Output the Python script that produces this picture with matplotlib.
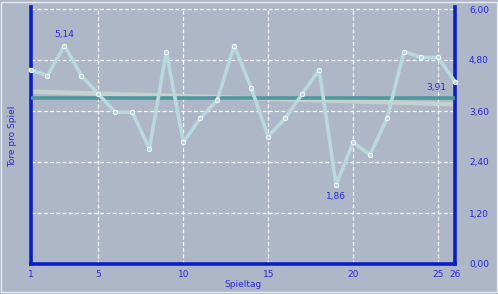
import matplotlib
matplotlib.use("Agg")
import matplotlib.pyplot as plt
import numpy as np
from matplotlib.patches import Rectangle

# Tore pro Spiel je Spieltag
spieltag = list(range(1, 27))
tore_pro_spiel = [4.57, 4.43, 5.14, 4.43, 4.00, 3.57, 3.57, 2.71, 5.00, 2.86,
                  3.43, 3.86, 5.14, 4.14, 3.00, 3.43, 4.00, 4.57, 1.86, 2.86,
                  2.57, 3.43, 5.00, 4.86, 4.86, 4.29]
schnitt = 3.91
x_ticks = [1, 5, 10, 15, 20, 25, 26]
y_ticks = [0.0, 1.2, 2.4, 3.6, 4.8, 6.0]

BG = "#adb7c7"
AXIS = "#0a1ec8"
TEXT = "#2a2ad2"
LINE = "#b9d9df"
AVG = "#4e979c"
TREND = "#c5d1cf"

fig = plt.figure(figsize=(4.98, 2.94), dpi=100, facecolor=BG)
fig.patches.append(Rectangle((0.003, 0.008), 0.994, 0.986, transform=fig.transFigure,
                             fill=False, edgecolor="#e8ecf0", linewidth=1.0))
ax = fig.add_axes([30.5 / 498, 30 / 294, (455 - 30.5) / 498, 255 / 294])
ax.set_facecolor(BG)
ax.set_xlim(1, 26)
ax.set_ylim(0, 6)

# grid
for v in [5, 10, 15, 20, 25]:
    ax.axvline(v, color="white", linestyle=(0, (3, 2)), linewidth=0.9, zorder=1)
for v in y_ticks[1:]:
    ax.axhline(v, color="white", linestyle=(0, (3, 2)), linewidth=0.9, zorder=1, clip_on=False)

# trend line (linear regression) and average
coef = np.polyfit(spieltag, tore_pro_spiel, 1)
ax.plot([1, 26], np.polyval(coef, [1, 26]), color=TREND, linewidth=3.2, zorder=2,
        solid_capstyle="butt")
ax.plot([1, 26], [schnitt, schnitt], color=AVG, linewidth=2.6, zorder=3,
        solid_capstyle="butt")

ax.plot(spieltag, tore_pro_spiel, color=LINE, linewidth=2.6, zorder=4,
        marker="o", markersize=3.2, markerfacecolor=LINE, markeredgecolor="white",
        markeredgewidth=0.6, clip_on=False)

ax.annotate("5,14", (3, 5.14), xytext=(0, 5), textcoords="offset points",
            ha="center", va="bottom", color=TEXT, fontsize=6.5)
ax.annotate("1,86", (19, 1.86), xytext=(0, -5), textcoords="offset points",
            ha="center", va="top", color=TEXT, fontsize=6.5)
ax.annotate("3,91", (26, schnitt), xytext=(-6, 4), textcoords="offset points",
            ha="right", va="bottom", color=TEXT, fontsize=6.5)

ax.spines["top"].set_visible(False)
for side in ["left", "right", "bottom"]:
    ax.spines[side].set_color(AXIS)
    ax.spines[side].set_linewidth(2.6)
ax.spines["left"].set_bounds(0, 6.04)
ax.spines["right"].set_bounds(0, 6.04)

ax.set_xticks(x_ticks)
ax.set_xticklabels([str(t) for t in x_ticks])
ax.set_yticks(y_ticks)
ax.set_yticklabels([f"{t:.2f}".replace(".", ",") for t in y_ticks])
ax.yaxis.tick_right()
ax.tick_params(axis="both", length=0, colors=TEXT, labelsize=6.5)
ax.tick_params(axis="y", pad=10)
ax.tick_params(axis="x", pad=4)

ax.set_xlabel("Spieltag", color=TEXT, fontsize=6.5, labelpad=1)
ax.set_ylabel("Tore pro Spiel", color=TEXT, fontsize=6.5, labelpad=10)
ax.yaxis.set_label_position("left")

fig.savefig("out.png", dpi=100, facecolor=BG)
